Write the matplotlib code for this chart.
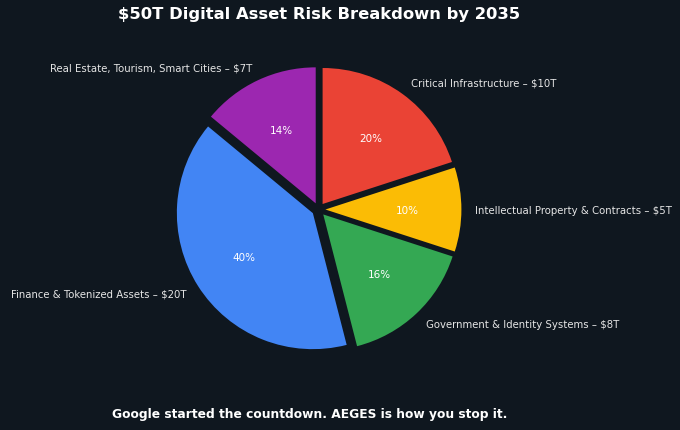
import matplotlib.pyplot as plt

# data
sectors = ['Critical Infrastructure', 'Intellectual Property & Contracts',
           'Government & Identity Systems', 'Finance & Tokenized Assets',
           'Real Estate, Tourism, Smart Cities']
values_t = [10, 5, 8, 20, 7]
colors = ['#EA4335', '#FBBC05', '#34A853', '#4285F4', '#9C27B0']

bg = '#0f171f'
W, H = 680, 431

fig = plt.figure(figsize=(W / 100, H / 100), dpi=100, facecolor=bg)

# pie centre / radius in pixels
cx, cy, R = 318.6, H - 210.5, 136
half = 1.5 * R
ax = fig.add_axes([(cx - half) / W, (cy - half) / H, 2 * half / W, 2 * half / H])
ax.set_facecolor(bg)

labels = [f'{s} – ${v}T' for s, v in zip(sectors, values_t)]
wedges, texts, autotexts = ax.pie(
    values_t, labels=labels, colors=colors, autopct='%1.0f%%',
    startangle=90, counterclock=False, explode=[0.05] * len(values_t),
    textprops={'color': '#e6e6e6', 'fontsize': 7.3})
for t in autotexts:
    t.set_color('white')
    t.set_fontsize(7.5)

ax.set_xlim(-1.5, 1.5)
ax.set_ylim(-1.5, 1.5)
ax.set_aspect('equal')
ax.axis('off')

fig.text(cx / W, 1 - 15 / H, '$50T Digital Asset Risk Breakdown by 2035',
         ha='center', va='center', color='white', fontsize=11.8, fontweight='bold')
fig.text(310 / W, 1 - 415 / H, 'Google started the countdown. AEGES is how you stop it.',
         ha='center', va='center', color='white', fontsize=8.8, fontweight='bold')

fig.savefig('out.png', dpi=100, facecolor=bg)
